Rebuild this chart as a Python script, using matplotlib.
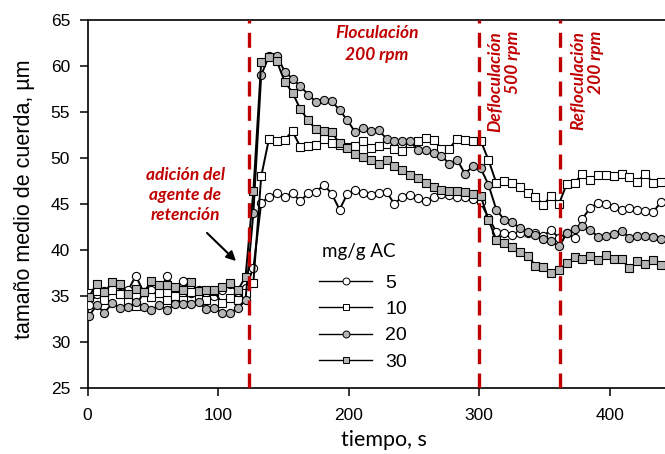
import matplotlib
matplotlib.use("Agg")
import matplotlib.pyplot as plt
from matplotlib.lines import Line2D

# tiempo de muestreo, s
tiempo = [1, 7, 13, 19, 25, 31, 37, 43, 49, 55, 61, 67, 73, 79, 85, 91, 97, 103, 109, 115,
          121, 127, 133, 139, 145, 151, 157, 163, 169, 175, 181, 187, 193, 199, 205, 211, 217,
          223, 229, 235, 241, 247, 253, 259, 265, 271, 277, 283, 289, 295, 301, 307, 313, 319,
          325, 331, 337, 343, 349, 355, 361, 367, 373, 379, 385, 391, 397, 403, 409, 415, 421,
          427, 433, 439]

# tamaño medio de cuerda (um) para cada dosis, mg/g AC
d5 = [34.0, 35.2, 35.5, 35.8, 35.3, 35.6, 37.2, 35.4, 35.7, 35.4, 37.2, 35.6, 36.6, 35.3, 35.6,
      35.2, 35.0, 35.6, 36.3, 35.4, 35.9,
      38.0, 45.1, 45.8, 46.2, 45.8, 46.2, 45.3, 46.2, 46.3, 47.1, 46.1, 44.4, 46.1, 46.5, 46.2,
      46.0, 46.2, 46.3, 45.0, 45.8, 46.0, 45.6, 45.3, 45.8, 46.1, 46.0, 45.8, 45.8, 45.5, 45.2,
      43.5, 42.0, 41.9, 41.6, 41.8, 41.8, 41.8, 41.5, 42.2, 41.3,
      41.8, 41.3, 43.4, 44.6, 45.1, 45.0, 44.7, 44.3, 44.6, 44.4, 44.2, 44.1, 45.2]
d10 = [35.3, 35.5, 34.6, 35.6, 35.2, 34.5, 33.9, 35.4, 34.9, 35.3, 34.6, 35.0, 34.6, 35.4, 34.7,
       34.6, 35.5, 34.2, 34.8, 34.6, 35.3,
       36.4, 48.0, 52.1, 51.8, 52.0, 52.9, 51.2, 51.3, 51.4, 52.1, 51.6, 51.4, 51.2, 51.3, 51.9,
       51.1, 51.3, 51.5, 51.0, 50.8, 51.6, 51.8, 52.2, 52.0, 51.0, 51.0, 52.1, 52.0, 51.9, 51.9,
       49.8, 47.3, 47.5, 47.3, 46.8, 46.2, 45.8, 44.9, 45.9, 45.0,
       47.2, 47.3, 48.3, 47.6, 48.1, 48.2, 48.05, 48.3, 47.9, 47.4, 48.3, 47.3, 47.4]
d20 = [32.8, 34.0, 33.2, 34.2, 33.7, 33.8, 34.3, 33.8, 33.5, 34.0, 33.5, 34.1, 34.1, 34.1, 34.3,
       33.6, 33.7, 33.2, 33.1, 33.7, 34.6,
       44.0, 59.0, 61.1, 61.1, 59.4, 58.6, 57.8, 56.9, 56.1, 56.3, 56.2, 55.2, 54.1, 52.8, 53.3,
       52.9, 53.0, 52.1, 51.9, 51.8, 51.8, 50.9, 50.9, 50.5, 50.2, 49.4, 49.8, 48.3, 49.1, 48.9,
       47.1, 44.4, 43.3, 43.0, 42.4, 42.0, 41.6, 41.2, 41.0, 40.4,
       41.8, 42.3, 42.6, 42.2, 41.4, 41.5, 41.7, 42.1, 41.3, 41.5, 41.5, 41.4, 41.2]
d30 = [34.9, 36.3, 35.4, 36.5, 36.3, 35.2, 35.8, 35.4, 36.6, 36.2, 36.2, 36.0, 35.6, 36.5, 35.5,
       35.7, 35.7, 36.0, 36.4, 35.6, 37.1,
       46.4, 60.4, 61.0, 60.5, 58.3, 57.1, 55.3, 54.1, 53.1, 52.9, 52.8, 51.6, 51.1, 50.4, 50.1,
       49.8, 49.4, 49.8, 49.1, 48.7, 48.2, 47.8, 47.3, 46.8, 46.5, 46.4, 46.4, 46.3, 46.1, 45.9,
       43.3, 41.1, 40.8, 40.3, 39.8, 39.4, 38.3, 38.2, 37.5, 37.8,
       38.6, 39.2, 39.0, 39.3, 38.9, 39.5, 39.0, 39.0, 38.0, 38.8, 38.5, 38.9, 38.4]

dosis = ["5", "10", "20", "30"]
eventos = [124, 300, 362]

rojo = "#c00000"
gris = "#b4b4b4"
arial = "Liberation Sans"
calibri = "Lato"

fig = plt.figure(figsize=(6.65, 4.54), dpi=100)
ax = fig.add_axes([87.5 / 665, 66 / 454, 577.5 / 665, 368 / 454])

estilos = [("o", "white"), ("s", "white"), ("o", gris), ("s", gris)]
series = [d5, d10, d20, d30]
for y, (m, fc) in zip(series, estilos):
    ax.plot(tiempo, y, color="black", lw=1.4, marker=m, ms=5.9 if m == "o" else 5.6,
            mfc=fc, mec="black", mew=0.8, zorder=3)

for ev in eventos:
    ax.axvline(ev, color=rojo, lw=2.4, ls=(0, (4.5, 2.8)), zorder=4)

ax.set_xlim(0, 442.2)
ax.set_ylim(25, 65)
ax.set_xticks([0, 100, 200, 300, 400])
ax.set_yticks(range(25, 66, 5))
ax.tick_params(direction="out", length=5.5, width=1.1, labelsize=12.5)
ax.tick_params(axis="x", pad=9)
ax.tick_params(axis="y", pad=7)
for lab in ax.get_xticklabels() + ax.get_yticklabels():
    lab.set_fontfamily(arial)
ax.spines["right"].set_visible(False)
for s in ["left", "bottom", "top"]:
    ax.spines[s].set_linewidth(1.2)

fig.text(25 / 665, 1 - 199 / 454, "tamaño medio de cuerda, µm", fontsize=15.5, family=arial,
         rotation=90, ha="center", va="center")
fig.text(384 / 665, 1 - 440 / 454, "tiempo, s", fontsize=15.5, family=calibri,
         ha="center", va="center")

# anotaciones
kw = dict(color=rojo, fontsize=12.5, family=calibri, fontweight="bold", fontstyle="italic")
fig.text(377 / 665, 1 - 33 / 454, "Floculación", ha="center", va="center", **kw)
fig.text(377 / 665, 1 - 55 / 454, "200 rpm", ha="center", va="center", **kw)
fig.text(185 / 665, 1 - 195 / 454, "adición del\nagente de\nretención", ha="center",
         va="center", linespacing=1.3, **kw)
fig.text(504 / 665, 1 - 31 / 454, "Defloculación\n500 rpm", rotation=90, ha="center",
         va="top", multialignment="right", linespacing=1.15, **kw)
fig.text(587 / 665, 1 - 31 / 454, "Refloculación\n200 rpm", rotation=90, ha="center",
         va="top", multialignment="right", linespacing=1.15, **kw)
ax.annotate("", xy=(238, 454 - 263), xycoords="figure pixels", xytext=(205, 454 - 231),
            textcoords="figure pixels",
            arrowprops=dict(arrowstyle="-|>", color="black", lw=1.5, mutation_scale=14))

# leyenda
fig.text(322 / 665, 1 - 251 / 454, "mg/g AC", fontsize=13.5, family=calibri, ha="left",
         va="center")
handles = [Line2D([], [], color="black", lw=1.0, marker=m, ms=5, mfc=fc, mec="black", mew=0.7)
           for m, fc in estilos]
ax.legend(handles, dosis, loc="upper left",
          bbox_to_anchor=(319 / 665, 1 - 274 / 454), bbox_transform=fig.transFigure,
          frameon=False, borderpad=0, borderaxespad=0, handlelength=2.75,
          handletextpad=0.65, labelspacing=0.45, prop={"family": arial, "size": 14})

fig.savefig("out.png", dpi=100)
